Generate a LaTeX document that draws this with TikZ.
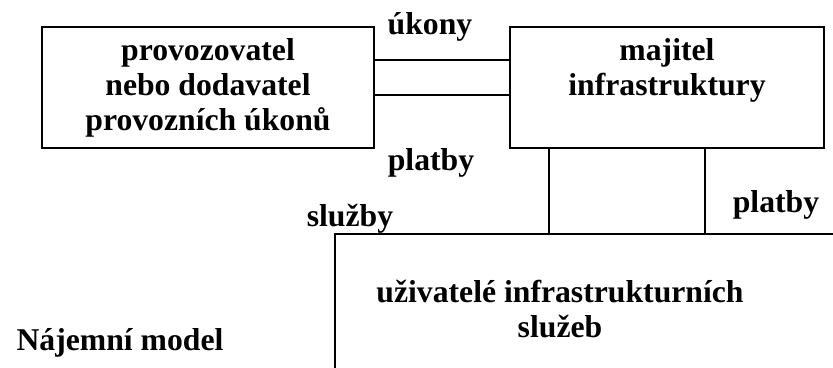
\documentclass[tikz,border=0pt]{standalone}
\usepackage{fontspec}
\setmainfont{Liberation Serif}
\begin{document}
\begin{tikzpicture}[x=1pt,y=-1pt,
  lbl/.style={font=\bfseries\fontsize{31.7}{35}\selectfont, inner sep=0pt, anchor=base},
  box/.style={draw, line width=2.5pt, align=center, inner sep=0pt,
    font=\bfseries\fontsize{31.7}{35}\selectfont},
  wire/.style={line width=2.2pt}]
\useasboundingbox (0,0) rectangle (833,367);
\node[box, minimum width=332pt, minimum height=121pt] (prov) at (208,87.5)
  {provozovatel\\nebo dodavatel\\provozních úkonů};
\node[box, minimum width=314pt, minimum height=121pt] (maj) at (667,87.5)
  {majitel\\infrastruktury\\\vphantom{p}};
\coordinate (ucorner) at (335,234);
\coordinate (ubottom) at (335,368);
\coordinate (uright) at (834,234);
\draw[wire] (ubottom) -- (ucorner) -- (uright);
\draw[wire] ([yshift=-34pt]prov.north east) -- ([yshift=-34pt]maj.north west);
\draw[wire] ([yshift=-69pt]prov.north east) -- ([yshift=-69pt]maj.north west);
\draw[wire] ([xshift=40pt]maj.south west) -- ([xshift=40pt]maj.south west |- ucorner);
\draw[wire] ([xshift=196pt]maj.south west) -- ([xshift=196pt]maj.south west |- ucorner);
\node[lbl] (ukony) at (430,34) {úkony};
\node[lbl] (platbyL) at (431,170) {platby};
\node[lbl] (sluzby) at (350,226) {služby};
\node[lbl] (platbyR) at (776,212) {platby};
\node[lbl, align=center] (users) at (560,337) {uživatelé infrastrukturních\\služeb};
\node[lbl] (model) at (120,350) {Nájemní model};
\end{tikzpicture}
\end{document}
